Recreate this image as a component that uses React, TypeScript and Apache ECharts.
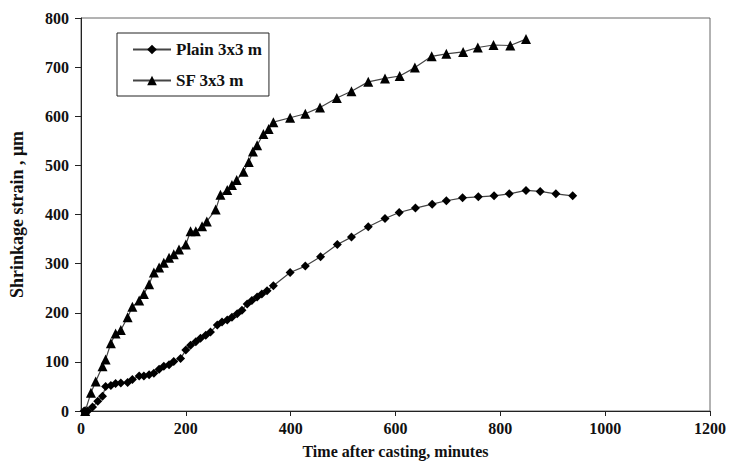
import React, { useEffect, useRef } from "react";
import * as echarts from "echarts";

const plainTime = [6, 13, 22, 32, 41, 47, 57, 66, 76, 89, 98, 111, 120, 130, 139, 149, 158, 168, 177, 190, 200, 209, 219, 228, 238, 247, 260, 269, 279, 288, 298, 307, 317, 326, 336, 345, 355, 367, 399, 428, 457, 489, 516, 548, 580, 607, 638, 670, 697, 728, 758, 788, 817, 849, 876, 906, 938];
const plainStrain = [0, 0, 8, 20, 30, 50, 52, 56, 57, 58, 64, 71, 71, 74, 77, 85, 91, 94, 101, 107, 124, 134, 141, 148, 154, 161, 175, 181, 185, 191, 198, 205, 218, 225, 232, 238, 245, 255, 282, 295, 314, 339, 354, 375, 392, 404, 413, 421, 428, 434, 436, 438, 442, 449, 447, 442, 438];

const sfTime = [8, 19, 28, 41, 47, 57, 66, 76, 89, 98, 111, 120, 130, 139, 149, 158, 168, 177, 187, 200, 209, 219, 231, 240, 257, 266, 279, 288, 297, 310, 320, 328, 336, 348, 358, 367, 399, 428, 456, 488, 516, 548, 580, 608, 637, 669, 697, 729, 757, 787, 819, 849];
const sfStrain = [0, 37, 60, 91, 105, 138, 158, 165, 191, 212, 225, 238, 258, 282, 292, 302, 312, 319, 329, 339, 366, 366, 376, 386, 410, 440, 450, 460, 470, 487, 507, 528, 541, 564, 574, 588, 597, 605, 618, 637, 651, 670, 677, 682, 699, 722, 727, 731, 740, 745, 744, 757];

const seriesNames = ["Plain 3x3 m", "SF 3x3 m"];
const xAxisTitle = "Time after casting, minutes";
const yAxisTitle = "Shrinkage strain , \u03bcm";

const FONT = "'Liberation Serif', 'Times New Roman', serif";

export default function App() {
  const ref = useRef<HTMLDivElement>(null);
  useEffect(() => {
    if (!ref.current) return;
    const chart = echarts.init(ref.current, undefined, { renderer: "svg" });
    const pair = (xs: number[], ys: number[]) => xs.map((x, i) => [x, ys[i]]);
    const labelStyle = { color: "#111", fontFamily: FONT, fontWeight: "bold" as const, fontSize: 16 };
    chart.setOption({
      animation: false,
      backgroundColor: "#fff",
      grid: {
        left: 80,
        right: 18,
        top: 18,
        bottom: 46,
        show: true,
        borderColor: "#666",
        borderWidth: 1,
      },
      legend: {
        orient: "vertical",
        left: 117,
        top: 33,
        padding: [8, 7, 7, 15],
        itemGap: 14,
        itemWidth: 38,
        itemHeight: 12,
        borderColor: "#222",
        borderWidth: 1,
        textStyle: { color: "#111", fontFamily: FONT, fontWeight: "bold", fontSize: 17 },
        data: seriesNames,
      },
      xAxis: {
        type: "value",
        min: 0,
        max: 1200,
        interval: 200,
        name: xAxisTitle,
        nameLocation: "middle",
        nameGap: 32,
        nameTextStyle: { color: "#111", fontFamily: FONT, fontWeight: "bold", fontSize: 16 },
        axisLine: { show: true, onZero: false, lineStyle: { color: "#222", width: 1 } },
        axisTick: { show: true, length: 5, lineStyle: { color: "#222" } },
        axisLabel: { ...labelStyle, margin: 9, formatter: (v: number) => String(v) },
        splitLine: { show: false },
      },
      yAxis: {
        type: "value",
        min: 0,
        max: 800,
        interval: 100,
        name: yAxisTitle,
        nameLocation: "middle",
        nameGap: 55,
        nameTextStyle: { color: "#111", fontFamily: FONT, fontWeight: "bold", fontSize: 18 },
        axisLine: { show: true, lineStyle: { color: "#222", width: 1 } },
        axisTick: { show: true, length: 6, lineStyle: { color: "#222" } },
        axisLabel: { ...labelStyle, margin: 12 },
        splitLine: { show: false },
      },
      series: [
        {
          name: seriesNames[0],
          type: "line",
          data: pair(plainTime, plainStrain),
          symbol: "diamond",
          symbolSize: 9,
          itemStyle: { color: "#000" },
          lineStyle: { color: "#444", width: 1.2 },
        },
        {
          name: seriesNames[1],
          type: "line",
          data: pair(sfTime, sfStrain),
          symbol: "triangle",
          symbolSize: 10,
          itemStyle: { color: "#000" },
          lineStyle: { color: "#444", width: 1.2 },
        },
      ],
    });
    return () => chart.dispose();
  }, []);
  return <div ref={ref} style={{ width: 729, height: 464, position: "absolute", left: 0, top: 0 }} />;
}
